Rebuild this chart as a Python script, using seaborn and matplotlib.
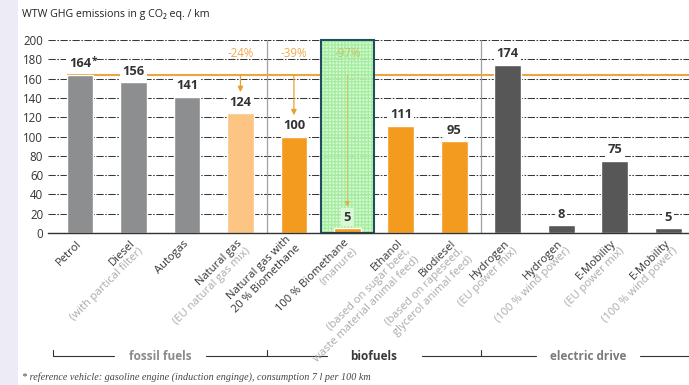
import numpy as np
import pandas as pd
import matplotlib
matplotlib.use("Agg")
import matplotlib.pyplot as plt
import matplotlib.transforms as mtransforms
from matplotlib.patches import Rectangle
import seaborn as sns

# ---- data -------------------------------------------------------------
fuels = ["Petrol", "Diesel", "Autogas", "Natural gas",
         "Natural gas with\n20 % Biomethane", "100 % Biomethane", "Ethanol",
         "Biodiesel", "Hydrogen", "Hydrogen", "E-Mobility", "E-Mobility"]
notes = ["", "(with partical filter)", "", "(EU natural gas mix)", "",
         "(manure)", "(based on sugar beet,\nwaste material animal feed)",
         "(based on rapeseed,\nglycerol animal feed)", "(EU power mix)",
         "(100 % wind power)", "(EU power mix)", "(100 % wind power)"]
emissions = [164, 156, 141, 124, 100, 5, 111, 95, 174, 8, 75, 5]
bar_colors = ["#8d8e90", "#8d8e90", "#8d8e90", "#fdc583", "#f39b1f",
              "#f39b1f", "#f39b1f", "#f39b1f", "#575757", "#575757",
              "#575757", "#575757"]
reference_value = 164
compared = [3, 4, 5]            # natural gas / biomethane variants
groups = ["fossil fuels", "biofuels", "electric drive"]
group_colors = ["#8a8a8a", "#3a3a3a", "#7a7a7a"]
group_edges = [-0.5, 3.5, 7.5, 11.5]
y_ticks = list(range(0, 201, 20))

title = "WTW GHG emissions in g CO\u2082 eq. / km"
footnote = "* reference vehicle: gasoline engine (induction enginge), consumption 7 l per 100 km"

# ---- style ------------------------------------------------------------
sns.set_theme(style="white")
plt.rcParams["font.family"] = ["Open Sans", "DejaVu Sans"]

W, H = 689, 385
fig = plt.figure(figsize=(W / 100, H / 100), dpi=100)
fig.patch.set_facecolor("white")
# pale strip along the left edge of the page
fig.add_artist(Rectangle((0, 0), 18 / W, 1, transform=fig.transFigure,
                         facecolor="#ecebf6", edgecolor="none", zorder=0))

ax = fig.add_axes([48 / W, (H - 233) / H, 641 / W, 193 / H])

ids = [f"c{i}" for i in range(len(emissions))]
df = pd.DataFrame({"id": ids, "value": emissions})
sns.barplot(data=df, x="id", y="value", hue="id", palette=bar_colors,
            width=0.5, dodge=False, legend=False, ax=ax, zorder=3,
            saturation=1)

ax.set_xlim(-0.6, 11.39)
ax.set_ylim(0, 200)
ax.set_xlabel("")
ax.set_ylabel("")

# dash-dot grid
ax.set_yticks(y_ticks)
ax.set_yticklabels([str(v) for v in y_ticks], fontsize=8.3, color="#333333")
ax.tick_params(axis="y", length=0, pad=3.5)
ax.yaxis.grid(True, linestyle=(0, (7, 1.5, 1.5, 1.5)), color="#383838",
              linewidth=0.75, zorder=0)
ax.set_axisbelow(True)

ax.set_xticks(np.arange(-0.5, 11, 1))
ax.set_xticklabels([])
ax.tick_params(axis="x", length=4, width=0.8, color="#333333", direction="out")
for s in ["top", "right", "left"]:
    ax.spines[s].set_visible(False)
ax.spines["bottom"].set_color("#333333")
ax.spines["bottom"].set_linewidth(1.0)
ax.spines["bottom"].set_zorder(6)

# group separators
for xb in group_edges[1:-1]:
    ax.plot([xb, xb], [0, 200], color="#a0a0a0", lw=0.9, zorder=1)

# reference line of the petrol car
ax.plot([-0.25, 11.39], [reference_value] * 2, color="#eaa740", lw=1.5,
        zorder=2, solid_capstyle="butt")

# highlighted biomethane column
hi = 5
ax.add_patch(Rectangle((hi - 0.5, 0), 1, 200, facecolor="#d9f8d6",
                       edgecolor="#9bec95", hatch="+++++", lw=0,
                       alpha=0.85, zorder=2.6))
ax.add_patch(Rectangle((hi - 0.5, 0), 1, 200, facecolor="none",
                       edgecolor="#1f4f5f", lw=1.5, zorder=5, clip_on=False))

# reduction arrows and percentages
for i in compared:
    pale = i == hi
    ax.annotate("", xy=(i, emissions[i] + 22), xytext=(i, reference_value),
                arrowprops=dict(arrowstyle="-|>", color="#e8a032",
                                lw=0.9 if not pale else 0.7,
                                alpha=1.0 if not pale else 0.6,
                                mutation_scale=8, shrinkA=0, shrinkB=0),
                zorder=4)
    pct = round((emissions[i] - reference_value) / reference_value * 100)
    ax.text(i, 186.5, f"{pct}%", ha="center", va="center", fontsize=8.3,
            color="#c3c26a" if pale else "#f0a84c", zorder=6)

# value labels
for i, v in enumerate(emissions):
    face = "#d9f8d6" if i == hi else "white"
    ax.text(i, v + 11.5, str(v), ha="center", va="center", fontsize=9.3,
            fontweight="bold", color="#333333", zorder=6,
            bbox=dict(boxstyle="square,pad=0.2", facecolor=face,
                      edgecolor="none"))
ax.annotate("*", xy=(0, emissions[0] + 11.5), xytext=(8.5, 2),
            textcoords="offset points", ha="left", va="center",
            fontsize=7, fontweight="bold", color="#333333", zorder=7)

# rotated category labels (name dark, note grey)
lab_size = 8.0
for i, (name, note) in enumerate(zip(fuels, notes)):
    if note:
        ax.annotate(name, xy=(i, 0), xytext=(3, -9),
                    textcoords="offset points", rotation=45,
                    rotation_mode="anchor", ha="right", va="bottom",
                    multialignment="right", fontsize=lab_size,
                    color="#333333", annotation_clip=False)
        ax.annotate(note, xy=(i, 0), xytext=(3, -9),
                    textcoords="offset points", rotation=45,
                    rotation_mode="anchor", ha="right", va="top",
                    multialignment="right", fontsize=lab_size,
                    color="#aaaaaa", annotation_clip=False)
    else:
        ax.annotate(name, xy=(i, 0), xytext=(0, -7),
                    textcoords="offset points", rotation=45,
                    rotation_mode="anchor", ha="right", va="center",
                    multialignment="right", fontsize=lab_size,
                    color="#333333", annotation_clip=False)

# group brackets below the labels
tb = mtransforms.blended_transform_factory(ax.transData, fig.transFigure)
yb = (H - 356) / H
ytick_top = (H - 350) / H
half_gap = [0.86, 0.89, 0.98]
xs_edges = [-0.5, 3.5, 7.5, 11.39]
for k, g in enumerate(groups):
    c = (group_edges[k] + group_edges[k + 1]) / 2
    ax.plot([xs_edges[k], c - half_gap[k]], [yb, yb], transform=tb,
            color="#333333", lw=0.8, clip_on=False)
    ax.plot([c + half_gap[k], xs_edges[k + 1]], [yb, yb], transform=tb,
            color="#333333", lw=0.8, clip_on=False)
    ax.plot([group_edges[k]] * 2, [yb, ytick_top], transform=tb,
            color="#333333", lw=0.8, clip_on=False)
    ax.text(c, yb, g, transform=tb, ha="center", va="center", fontsize=8.5,
            fontweight="bold", color=group_colors[k])

fig.text(22 / W, 1 - 14 / H, title, ha="left", va="center", fontsize=7.7,
         color="#222222")
fig.text(22 / W, 1 - 377 / H, footnote, ha="left", va="center", fontsize=7.3,
         style="italic", family=["Liberation Serif", "DejaVu Serif"],
         color="#444444")

fig.savefig("out.png", dpi=100, facecolor="white")
